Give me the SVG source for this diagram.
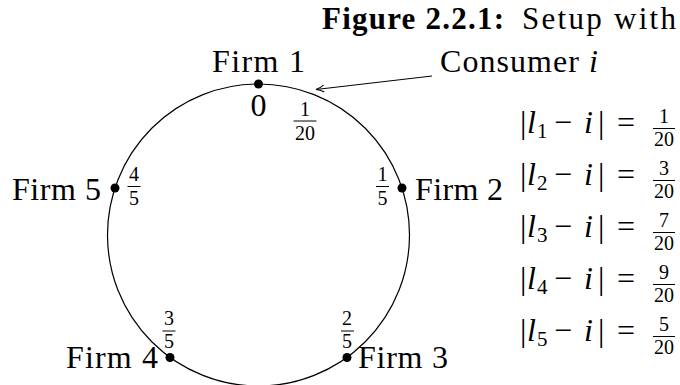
<svg xmlns="http://www.w3.org/2000/svg" width="680" height="385" viewBox="0 0 680 385">
<style>
text{font-family:"Liberation Serif","Times New Roman",serif;fill:#000}
.lab{font-size:32px}
.frac{font-size:20px;text-anchor:middle}
.it{font-style:italic}
.sub{font-size:21px}
.bar{stroke:#000;stroke-width:1}
.dot{fill:#000}
</style>
<defs>
<marker id="to" viewBox="0 0 10 10" refX="9" refY="5" markerWidth="10" markerHeight="10" markerUnits="userSpaceOnUse" orient="auto">
<path d="M1,1.5 Q5,4.2 9,5 Q5,5.8 1,8.5" fill="none" stroke="#000" stroke-width="1"/>
</marker>
</defs>
<rect width="680" height="385" fill="#fff"/>
<text id="title" y="28.5" style="font-size:31px"><tspan x="322" font-weight="bold" textLength="182">Figure 2.2.1:</tspan><tspan x="522" textLength="154">Setup with</tspan></text>
<g id="circle"><circle cx="258.5" cy="235" r="151" fill="none" stroke="#000" stroke-width="1.2"/></g>
<g id="connectors">
<line x1="432" y1="76" x2="316" y2="89.5" stroke="#000" stroke-width="1" marker-end="url(#to)"/>
</g>
<g id="firm1">
<circle class="dot" cx="258.5" cy="84" r="4.5"/>
<text class="lab" x="258.5" y="72" text-anchor="middle" textLength="93">Firm 1</text>
<text class="lab" x="258.5" y="116" text-anchor="middle">0</text>
</g>
<g id="consumer">
<text class="lab" x="440" y="72" textLength="158">Consumer <tspan class="it">i</tspan></text>
<text class="frac" x="305" y="116">1</text><line class="bar" x1="293.5" y1="121" x2="316.5" y2="121"/><text class="frac" x="305" y="140">20</text>
</g>
<g id="firm2">
<circle class="dot" cx="402" cy="188" r="4.5"/>
<text class="lab" x="415" y="200" textLength="88">Firm 2</text>
<text class="frac" x="382.5" y="181">1</text><line class="bar" x1="376" y1="186.5" x2="389" y2="186.5"/><text class="frac" x="382.5" y="205">5</text>
</g>
<g id="firm3">
<circle class="dot" cx="347" cy="357.5" r="4.5"/>
<text class="lab" x="358" y="368" textLength="90">Firm 3</text>
<text class="frac" x="347" y="325">2</text><line class="bar" x1="341" y1="331" x2="354" y2="331"/><text class="frac" x="347" y="348">5</text>
</g>
<g id="firm4">
<circle class="dot" cx="170" cy="357.5" r="4.5"/>
<text class="lab" x="158" y="368" text-anchor="end" textLength="92">Firm 4</text>
<text class="frac" x="169" y="325">3</text><line class="bar" x1="162.5" y1="331" x2="175.5" y2="331"/><text class="frac" x="169" y="348">5</text>
</g>
<g id="firm5">
<circle class="dot" cx="115" cy="188" r="4.5"/>
<text class="lab" x="101" y="200" text-anchor="end" textLength="89">Firm 5</text>
<text class="frac" x="134" y="181">4</text><line class="bar" x1="127.5" y1="186.5" x2="140.5" y2="186.5"/><text class="frac" x="134" y="205">5</text>
</g>
<g id="distances">
<g id="d1"><text class="lab" y="133"><tspan x="520">|</tspan><tspan x="527" class="it">l</tspan><tspan class="sub" x="537" dy="5">1</tspan><tspan x="554" dy="-5">−</tspan><tspan x="584" class="it">i</tspan><tspan x="598">|</tspan><tspan x="617">=</tspan></text><text class="frac" x="664" y="123">1</text><line class="bar" x1="653" y1="128.5" x2="675" y2="128.5"/><text class="frac" x="664" y="146">20</text></g>
<g id="d2"><text class="lab" y="185"><tspan x="520">|</tspan><tspan x="527" class="it">l</tspan><tspan class="sub" x="537" dy="5">2</tspan><tspan x="554" dy="-5">−</tspan><tspan x="584" class="it">i</tspan><tspan x="598">|</tspan><tspan x="617">=</tspan></text><text class="frac" x="664" y="175">3</text><line class="bar" x1="653" y1="180.5" x2="675" y2="180.5"/><text class="frac" x="664" y="198">20</text></g>
<g id="d3"><text class="lab" y="237"><tspan x="520">|</tspan><tspan x="527" class="it">l</tspan><tspan class="sub" x="537" dy="5">3</tspan><tspan x="554" dy="-5">−</tspan><tspan x="584" class="it">i</tspan><tspan x="598">|</tspan><tspan x="617">=</tspan></text><text class="frac" x="664" y="227">7</text><line class="bar" x1="653" y1="232.5" x2="675" y2="232.5"/><text class="frac" x="664" y="250">20</text></g>
<g id="d4"><text class="lab" y="289"><tspan x="520">|</tspan><tspan x="527" class="it">l</tspan><tspan class="sub" x="537" dy="5">4</tspan><tspan x="554" dy="-5">−</tspan><tspan x="584" class="it">i</tspan><tspan x="598">|</tspan><tspan x="617">=</tspan></text><text class="frac" x="664" y="279">9</text><line class="bar" x1="653" y1="284.5" x2="675" y2="284.5"/><text class="frac" x="664" y="302">20</text></g>
<g id="d5"><text class="lab" y="341"><tspan x="520">|</tspan><tspan x="527" class="it">l</tspan><tspan class="sub" x="537" dy="5">5</tspan><tspan x="554" dy="-5">−</tspan><tspan x="584" class="it">i</tspan><tspan x="598">|</tspan><tspan x="617">=</tspan></text><text class="frac" x="664" y="331">5</text><line class="bar" x1="653" y1="336.5" x2="675" y2="336.5"/><text class="frac" x="664" y="354">20</text></g>
</g>
</svg>
